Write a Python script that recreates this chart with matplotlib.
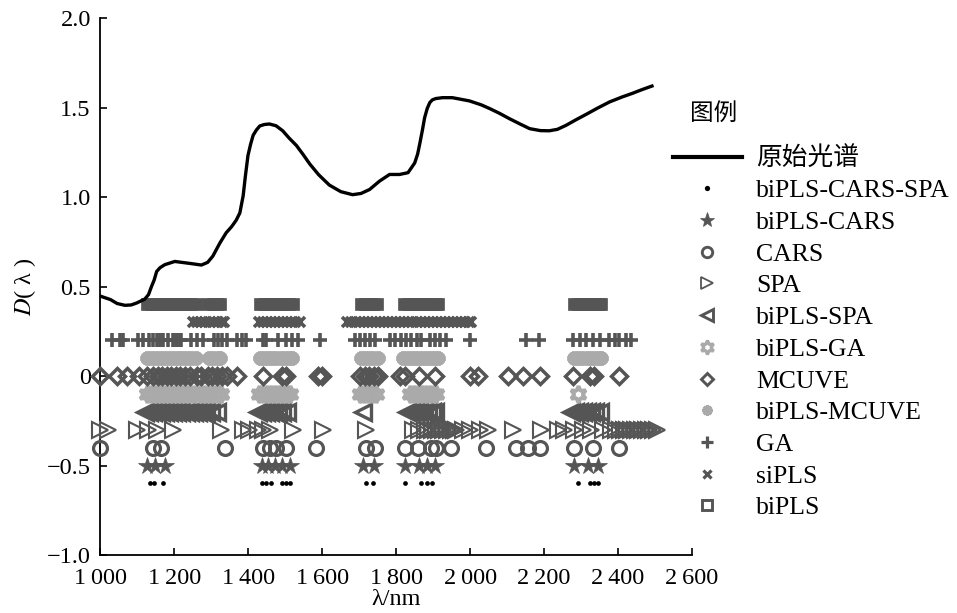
import matplotlib
matplotlib.use('Agg')
import matplotlib.pyplot as plt
from matplotlib.lines import Line2D

plt.rcParams['font.family'] = ['Liberation Serif', 'Noto Sans CJK SC', 'DejaVu Serif']
plt.rcParams['mathtext.fontset'] = 'stix'

# original spectrum
spec_wl = [1000, 1027, 1045, 1066, 1083, 1098, 1120, 1130, 1138, 1145, 1152, 1161, 1174,
           1201, 1242, 1273, 1290, 1304, 1323, 1340, 1355, 1367, 1377, 1386, 1392, 1399,
           1406, 1413, 1422, 1431, 1443, 1457, 1475, 1493, 1510, 1530, 1548, 1566, 1590,
           1619, 1650, 1682, 1705, 1728, 1755, 1782, 1809, 1832, 1850, 1858, 1864, 1871,
           1877, 1884, 1891, 1898, 1907, 1925, 1952, 1998, 2030, 2053, 2080, 2106, 2135,
           2161, 2190, 2214, 2236, 2259, 2285, 2314, 2345, 2377, 2410, 2440, 2465, 2492]
spec_d = [0.446, 0.427, 0.405, 0.395, 0.397, 0.408, 0.43, 0.455, 0.50, 0.535, 0.584, 0.605,
          0.622, 0.64, 0.629, 0.62, 0.635, 0.67, 0.743, 0.80, 0.835, 0.87, 0.911, 1.007,
          1.117, 1.232, 1.294, 1.345, 1.375, 1.397, 1.405, 1.408, 1.398, 1.37, 1.33,
          1.288, 1.238, 1.185, 1.125, 1.067, 1.03, 1.013, 1.02, 1.042, 1.089, 1.126,
          1.126, 1.136, 1.19, 1.24, 1.30, 1.375, 1.444, 1.495, 1.528, 1.543, 1.55, 1.555,
          1.555, 1.537, 1.515, 1.494, 1.467, 1.438, 1.408, 1.382, 1.371, 1.37, 1.378,
          1.40, 1.43, 1.462, 1.497, 1.531, 1.558, 1.58, 1.60, 1.62]

# selected wavelengths for every method (nm)
biPLS_wl = [1125, 1136, 1147, 1158, 1169, 1180, 1191, 1202, 1213, 1224, 1235, 1246, 1258,
            1292, 1304, 1316, 1324,
            1432, 1443, 1454, 1465, 1476, 1487, 1498, 1509, 1520,
            1705, 1716, 1727, 1738, 1749,
            1820, 1831, 1842, 1853, 1864, 1875, 1886, 1897, 1908, 1914,
            2282, 2293, 2304, 2315, 2326, 2337, 2348, 2355]
siPLS_wl = [1251, 1262, 1273, 1284, 1295, 1306, 1317, 1328, 1335,
            1428, 1439, 1450, 1461, 1472, 1483, 1494, 1505, 1516, 1527, 1539,
            1668, 1679, 1690, 1701, 1712, 1723, 1734, 1745, 1756, 1767, 1778, 1789,
            1800, 1811, 1822, 1833, 1844, 1855, 1866, 1877, 1888, 1899, 1910, 1921,
            1932, 1943, 1954, 1965, 1976, 1987, 1998, 2003]
GA_wl = [1030, 1053, 1062, 1102, 1116, 1132, 1141, 1152, 1161, 1170, 1183, 1197, 1203,
         1208, 1214, 1219, 1246, 1260, 1276, 1307, 1318, 1330, 1341, 1368, 1382, 1395,
         1440, 1449, 1481, 1503, 1517, 1535, 1595, 1688, 1701, 1715, 1728, 1742, 1782,
         1796, 1814, 1827, 1841, 1855, 1868, 1891, 1904, 1918, 1936, 2000, 2150, 2186,
         2278, 2296, 2314, 2332, 2350, 2377, 2391, 2404, 2422, 2436]
biPLS_MCUVE_wl = [1125, 1136, 1147, 1158, 1169, 1180, 1191, 1202, 1213, 1224, 1235, 1246, 1258,
                  1293, 1305, 1317, 1323,
                  1432, 1443, 1454, 1465, 1476, 1487, 1498, 1509, 1517,
                  1705, 1716, 1727, 1738, 1750,
                  1818, 1829, 1840, 1851, 1862, 1873, 1884, 1895, 1906, 1914,
                  2282, 2293, 2304, 2315, 2326, 2337, 2348, 2355]
MCUVE_wl = [1000, 1044, 1072, 1105, 1125, 1143, 1155, 1167, 1179, 1191, 1203, 1215, 1228,
            1242, 1260, 1273, 1291, 1303, 1315, 1328, 1341, 1368, 1440, 1490, 1503, 1589,
            1600, 1703, 1715, 1727, 1739, 1750, 1810, 1823, 1863, 1904, 1999, 2021, 2102,
            2143, 2188, 2278, 2323, 2336, 2404]
biPLS_GA_wl = [1125, 1136, 1147, 1158, 1169, 1180, 1191, 1202, 1213, 1224, 1235, 1246,
               1257, 1268, 1279, 1290, 1301, 1312, 1323, 1327,
               1428, 1439, 1450, 1461, 1472, 1483, 1494, 1505, 1512,
               1702, 1713, 1724, 1735, 1746,
               1836, 1847, 1858, 1869, 1880, 1891, 1902, 1908,
               2291]
biPLS_SPA_wl = [1120, 1131, 1142, 1153, 1164, 1175, 1186, 1197, 1208, 1219, 1230, 1241,
                1252, 1263, 1274, 1285, 1298, 1314,
                1425, 1436, 1447, 1458, 1469, 1480, 1491, 1505,
                1710,
                1830, 1841, 1852, 1863, 1874, 1885, 1896, 1905,
                2272, 2283, 2294, 2305, 2316, 2327, 2338, 2352]
SPA_wl = [1000, 1021, 1098, 1129, 1152, 1197, 1327, 1386, 1402, 1427, 1440, 1458, 1521,
          1602, 1719, 1845, 1863, 1877, 1887, 1897, 1907, 1917, 1927, 1937, 1947, 1957,
          1963, 1981, 1999, 2026, 2048, 2116, 2192, 2237, 2255, 2282, 2305, 2327, 2359,
          2382, 2395, 2405, 2415, 2425, 2435, 2445, 2455, 2465, 2475, 2485, 2495, 2505]
CARS_wl = [1000, 1143, 1165, 1336, 1440, 1458, 1476, 1503, 1584, 1717, 1742, 1823, 1859,
           1895, 1908, 1949, 2044, 2125, 2156, 2188, 2280, 2332, 2404]
biPLS_CARS_wl = [1125, 1147, 1174, 1436, 1454, 1472, 1490, 1512, 1710, 1740, 1823, 1863,
                 1882, 1904, 2280, 2319, 2346]
biPLS_CARS_SPA_wl = [1134, 1145, 1168, 1436, 1447, 1460, 1490, 1501, 1512, 1719, 1737,
                     1825, 1868, 1883, 1898, 2292, 2323, 2336, 2345]

method_names = ['biPLS-CARS-SPA', 'biPLS-CARS', 'CARS', 'SPA', 'biPLS-SPA', 'biPLS-GA',
                'MCUVE', 'biPLS-MCUVE', 'GA', 'siPLS', 'biPLS']
method_wl = [biPLS_CARS_SPA_wl, biPLS_CARS_wl, CARS_wl, SPA_wl, biPLS_SPA_wl, biPLS_GA_wl,
             MCUVE_wl, biPLS_MCUVE_wl, GA_wl, siPLS_wl, biPLS_wl]
method_level = [-0.6, -0.5, -0.4, -0.3, -0.2, -0.1, 0.0, 0.1, 0.2, 0.3, 0.4]

dark = '#555555'
light = '#aaaaaa'

# marker look on the plot
plot_style = {
    'biPLS-CARS-SPA': dict(marker='o', ms=3.4, mfc='k', mec='k', mew=0),
    'biPLS-CARS': dict(marker='*', ms=13, mfc=dark, mec=dark, mew=0.5),
    'CARS': dict(marker='o', ms=10, mfc='none', mec=dark, mew=2.3),
    'SPA': dict(marker='>', ms=11.5, mfc='none', mec=dark, mew=1.5),
    'biPLS-SPA': dict(marker='<', ms=11, mfc='none', mec=dark, mew=2.4),
    'biPLS-GA': dict(marker=(6, 1, 0), ms=12, mfc='none', mec=light, mew=2.8),
    'MCUVE': dict(marker='D', ms=8.3, mfc='none', mec=dark, mew=2.5),
    'biPLS-MCUVE': dict(marker=(8, 2, 0), ms=10, mfc=light, mec=light, mew=3.5),
    'GA': dict(marker='+', ms=9.5, mfc='none', mec=dark, mew=2.6),
    'siPLS': dict(marker='x', ms=7, mfc='none', mec=dark, mew=2.6),
    'biPLS': dict(marker='s', ms=8.5, mfc=dark, mec=dark, mew=0.5),
}

# marker look in the legend
legend_style = {
    'biPLS-CARS-SPA': dict(marker='o', ms=3.8, mfc='k', mec='k', mew=0),
    'biPLS-CARS': dict(marker='*', ms=11, mfc=dark, mec=dark, mew=0.5),
    'CARS': dict(marker='o', ms=7.5, mfc='none', mec=dark, mew=2.1),
    'SPA': dict(marker='>', ms=8, mfc='none', mec=dark, mew=1.3),
    'biPLS-SPA': dict(marker='<', ms=8.5, mfc='none', mec=dark, mew=2.1),
    'biPLS-GA': dict(marker=(6, 1, 0), ms=10, mfc='none', mec=light, mew=2.3),
    'MCUVE': dict(marker='D', ms=6.3, mfc='none', mec=dark, mew=2.1),
    'biPLS-MCUVE': dict(marker=(8, 2, 0), ms=7.5, mfc=light, mec=light, mew=2.3),
    'GA': dict(marker='+', ms=8.5, mfc='none', mec=dark, mew=2.3),
    'siPLS': dict(marker='x', ms=6.3, mfc='none', mec=dark, mew=2.3),
    'biPLS': dict(marker='s', ms=7, mfc='none', mec=dark, mew=2.1),
}

xticks = [1000, 1200, 1400, 1600, 1800, 2000, 2200, 2400, 2600]
xtick_labels = ['1\u2009000', '1\u2009200', '1\u2009400', '1\u2009600', '1\u2009800',
                '2\u2009000', '2\u2009200', '2\u2009400', '2\u2009600']
yticks = [-1.0, -0.5, 0.0, 0.5, 1.0, 1.5, 2.0]
ytick_labels = ['\u22121.0', '\u22120.5', '0', '0.5', '1.0', '1.5', '2.0']


def draw_methods(ax):
    for name, wl, level in zip(method_names, method_wl, method_level):
        ax.plot(wl, [level] * len(wl), ls='none', clip_on=False, zorder=3,
                **plot_style[name])


def style_axes(ax):
    ax.set_xlim(1000, 2600)
    ax.set_ylim(-1.0, 2.0)
    for side in ['top', 'right']:
        ax.spines[side].set_visible(False)
    for side in ['left', 'bottom']:
        ax.spines[side].set_linewidth(1.3)
    ax.set_xticks(xticks)
    ax.set_xticklabels(xtick_labels)
    ax.set_yticks(yticks)
    ax.set_yticklabels(ytick_labels)
    ax.tick_params(direction='in', length=5, width=1.2, labelsize=17.5, pad=7)
    ax.tick_params(axis='x', pad=9)
    ax.set_xlabel('\u03bb/nm', fontsize=17.5, labelpad=0)
    ax.set_ylabel('$D$( \u03bb )', fontsize=17.5, labelpad=6)


def add_legend(fig):
    handles = [Line2D([], [], color='k', lw=3)]
    labels = ['原始光谱']
    for name in method_names:
        handles.append(Line2D([], [], ls='none', **legend_style[name]))
        labels.append(name)
    fig.text(0.721, 0.812, '图例', fontsize=17, va='center', ha='left')
    fig.legend(handles, labels, loc='upper left', bbox_to_anchor=(0.703, 0.761),
               frameon=False, fontsize=18.5, handlelength=2.7, handletextpad=0.55,
               labelspacing=0.34, borderpad=0, borderaxespad=0)


if __name__ == '__main__':
    fig = plt.figure(figsize=(9.57, 6.13), dpi=100)
    ax = fig.add_axes([0.105, 0.0946, 0.618, 0.876])
    draw_methods(ax)
    ax.plot(spec_wl, spec_d, color='k', lw=2.4, zorder=5)
    style_axes(ax)
    add_legend(fig)
    fig.savefig('out.png', dpi=100)
